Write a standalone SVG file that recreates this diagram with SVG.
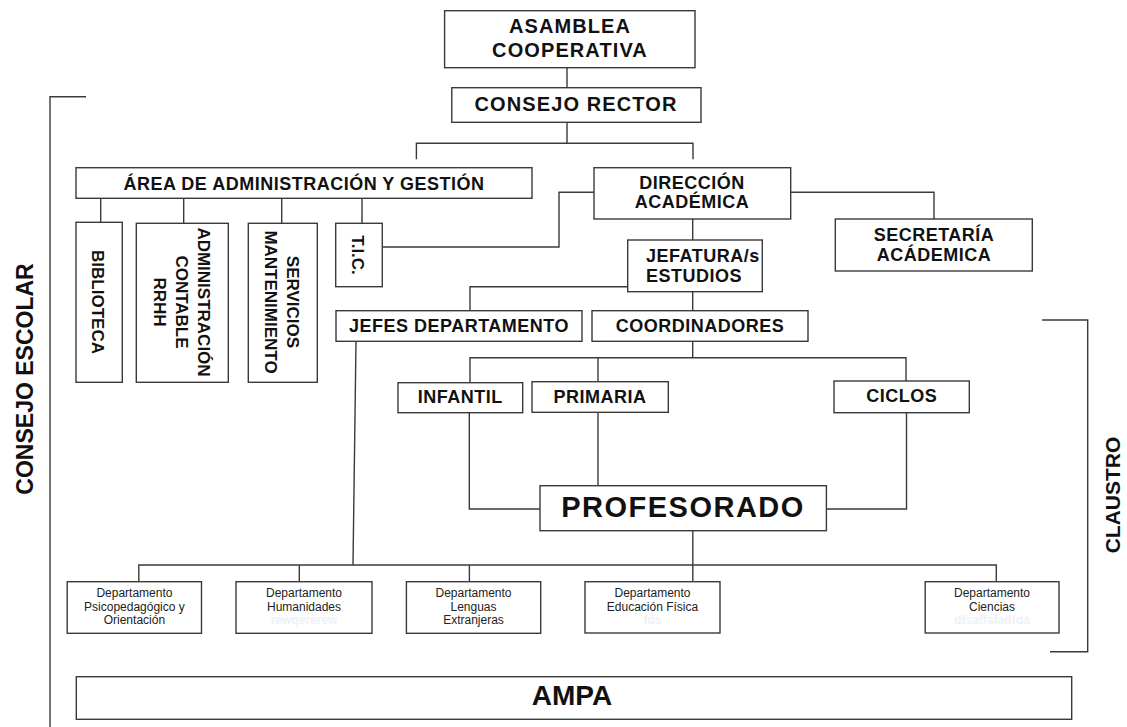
<svg xmlns="http://www.w3.org/2000/svg" width="1127" height="727" viewBox="0 0 1127 727">
<style>
.box{fill:#ffffff;stroke:#3a3a3a;stroke-width:1.4}
.ln{fill:none;stroke:#3a3a3a;stroke-width:1.4}
.t{font-family:"Liberation Sans",Arial,sans-serif;font-weight:bold;fill:#111;text-anchor:middle}
.t18{font-size:18px;letter-spacing:0.5px}
.t20{font-size:20px;letter-spacing:1.1px}
.r17{font-size:17px}
.d{font-family:"Liberation Sans",Arial,sans-serif;font-size:12px;fill:#222;text-anchor:middle}
.g{font-family:"Liberation Sans",Arial,sans-serif;font-size:12px;font-weight:bold;fill:#eef2f6;text-anchor:middle}
</style>
<rect width="1127" height="727" fill="#ffffff"/>

<g id="connectors">
<path class="ln" d="M567,67.7V87.7"/>
<path class="ln" d="M567,122.3V143.3M416.4,159.3V143.3H693V159.3"/>
<path class="ln" d="M594,192.3H559V247H382.3"/>
<path class="ln" d="M790.7,192.3H934V219"/>
<path class="ln" d="M100.7,198.3V222.3M183.7,198.3V223.3M281.7,198.3V223.3M362,198.3V223.3"/>
<path class="ln" d="M692.7,219V240"/>
<path class="ln" d="M627.7,286.7H470V310.7"/>
<path class="ln" d="M692.7,291.7V310.7"/>
<path class="ln" d="M692.7,341.3V357.7M470,382.7V357.7H906V381M598,357.7V381.7"/>
<path class="ln" d="M469.3,412.7V509H540"/>
<path class="ln" d="M598,412.3V485.7"/>
<path class="ln" d="M906.5,412.7V509H826.4"/>
<path class="ln" d="M692.8,530.7V581.7"/>
<path class="ln" d="M356,341.3L353,565"/>
<path class="ln" d="M138.8,581.7V565H996.3V581.7M299.3,565V581.7M469.4,565V581.7"/>
</g>

<g id="bracket-consejo-escolar">
<path class="ln" d="M86,96.7H50V727"/>
<text class="t" font-size="23" transform="translate(25,379) rotate(-90)" y="8.2">CONSEJO ESCOLAR</text>
</g>
<g id="bracket-claustro">
<path class="ln" d="M1042,320H1087.7V651.7H1050"/>
<text class="t" font-size="21" transform="translate(1112.5,495) rotate(-90)" y="7.5">CLAUSTRO</text>
</g>

<g id="asamblea">
<rect class="box" x="444.6" y="10.7" width="250.4" height="57"/>
<text class="t t20" x="570" y="33.3">ASAMBLEA</text>
<text class="t t20" x="570" y="57">COOPERATIVA</text>
</g>
<g id="consejo-rector">
<rect class="box" x="451.8" y="87.7" width="249.2" height="34.6"/>
<text class="t t20" x="576" y="111">CONSEJO RECTOR</text>
</g>
<g id="area-admin">
<rect class="box" x="76" y="167.7" width="456" height="30.6"/>
<text class="t t18" x="304" y="190" letter-spacing="0.45">ÁREA DE ADMINISTRACIÓN Y GESTIÓN</text>
</g>
<g id="direccion">
<rect class="box" x="594" y="167.7" width="196.7" height="51.3"/>
<text class="t t18" x="692" y="189.3">DIRECCIÓN</text>
<text class="t t18" x="692" y="208.3">ACADÉMICA</text>
</g>
<g id="secretaria">
<rect class="box" x="835.3" y="219" width="197" height="52"/>
<text class="t t18" x="934" y="240.7">SECRETARÍA</text>
<text class="t t18" x="934" y="260.7">ACÁDEMICA</text>
</g>
<g id="biblioteca">
<rect class="box" x="76" y="222.3" width="46.3" height="160"/>
<text class="t r17" transform="translate(98,302) rotate(90)" y="6">BIBLIOTECA</text>
</g>
<g id="administracion">
<rect class="box" x="136.3" y="223.3" width="92" height="159"/>
<text class="t r17" transform="translate(204,302) rotate(90)" y="6">ADMINISTRACIÓN</text>
<text class="t r17" transform="translate(182,302) rotate(90)" y="6">CONTABLE</text>
<text class="t r17" transform="translate(160,302) rotate(90)" y="6">RRHH</text>
</g>
<g id="servicios">
<rect class="box" x="248.3" y="223.3" width="69" height="159"/>
<text class="t r17" transform="translate(293,302) rotate(90)" y="6">SERVICIOS</text>
<text class="t r17" transform="translate(271,302) rotate(90)" y="6">MANTENIMIENTO</text>
</g>
<g id="tic">
<rect class="box" x="335.7" y="223.3" width="46.6" height="63.4"/>
<text class="t r17" transform="translate(357.5,255) rotate(90)" y="6">T.I.C.</text>
</g>
<g id="jefatura">
<rect class="box" x="627.7" y="240" width="134.6" height="51.7"/>
<text class="t t18" x="646" y="262" text-anchor="start" style="text-anchor:start">JEFATURA/s</text>
<text class="t t18" x="646" y="282" style="text-anchor:start">ESTUDIOS</text>
</g>
<g id="jefes-departamento">
<rect class="box" x="336" y="310.7" width="246" height="30.6"/>
<text class="t t18" x="459" y="331.7">JEFES DEPARTAMENTO</text>
</g>
<g id="coordinadores">
<rect class="box" x="592" y="310.7" width="216" height="30.6"/>
<text class="t t18" x="700" y="331.7">COORDINADORES</text>
</g>
<g id="infantil">
<rect class="box" x="398" y="382.7" width="124.7" height="30"/>
<text class="t t18" x="460.3" y="403.3">INFANTIL</text>
</g>
<g id="primaria">
<rect class="box" x="532" y="381.7" width="136.3" height="30.6"/>
<text class="t t18" x="600" y="403.3">PRIMARIA</text>
</g>
<g id="ciclos">
<rect class="box" x="834" y="381" width="135.3" height="31.7"/>
<text class="t t18" x="901.7" y="401.7">CICLOS</text>
</g>
<g id="profesorado">
<rect class="box" x="540" y="485.7" width="286.4" height="45"/>
<text class="t" font-size="29" letter-spacing="1.5" x="683" y="517.3">PROFESORADO</text>
</g>
<g id="dep-psicopedagogico">
<rect class="box" x="67.2" y="581.7" width="134.3" height="51.6"/>
<text class="d" x="134.4" y="597.3">Departamento</text>
<text class="d" x="134.4" y="610.7">Psicopedagógico y</text>
<text class="d" x="134.4" y="624">Orientación</text>
</g>
<g id="dep-humanidades">
<rect class="box" x="236" y="581.7" width="136" height="51.6"/>
<text class="d" x="304" y="597.3">Departamento</text>
<text class="d" x="304" y="610.7">Humanidades</text>
<text class="g" x="304" y="624">rewqererew</text>
</g>
<g id="dep-lenguas">
<rect class="box" x="406.4" y="581.7" width="134.3" height="51.6"/>
<text class="d" x="473.5" y="597.3">Departamento</text>
<text class="d" x="473.5" y="610.7">Lenguas</text>
<text class="d" x="473.5" y="624">Extranjeras</text>
</g>
<g id="dep-educacion-fisica">
<rect class="box" x="585" y="581.7" width="135" height="51.3"/>
<text class="d" x="652.5" y="597.3">Departamento</text>
<text class="d" x="652.5" y="610.7">Educación Física</text>
<text class="g" x="652.5" y="624">fds</text>
</g>
<g id="dep-ciencias">
<rect class="box" x="925.2" y="581.7" width="133.8" height="51.3"/>
<text class="d" x="992" y="597.3">Departamento</text>
<text class="d" x="992" y="610.7">Ciencias</text>
<text class="g" x="992" y="624">dfsaffafadfda</text>
</g>
<g id="ampa">
<rect class="box" x="76.3" y="676.7" width="995.4" height="42.6"/>
<text class="t" font-size="28" x="572" y="705">AMPA</text>
</g>
</svg>
